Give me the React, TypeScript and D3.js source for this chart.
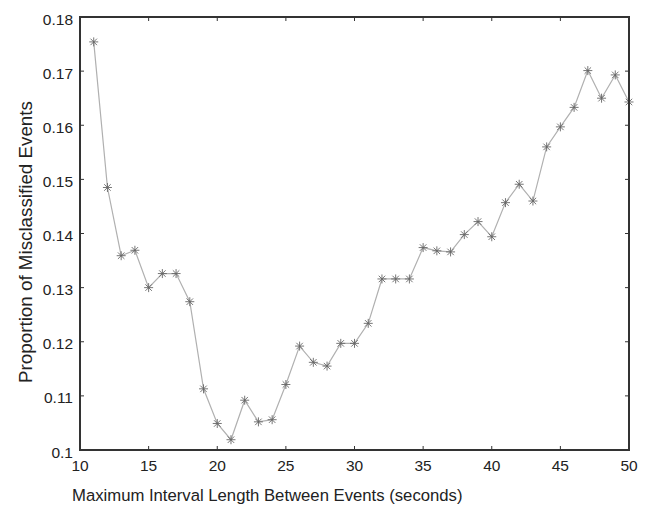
import React from "react";
import * as d3 from "d3";

const xValues = [11,12,13,14,15,16,17,18,19,20,21,22,23,24,25,26,27,28,29,30,31,32,33,34,35,36,37,38,39,40,41,42,43,44,45,46,47,48,49,50];
const yValues = [0.1754,0.1485,0.1359,0.1369,0.1300,0.1326,0.1326,0.1274,0.1113,0.1049,0.1019,0.1092,0.1052,0.1056,0.1121,0.1192,0.1162,0.1155,0.1197,0.1197,0.1234,0.1316,0.1316,0.1316,0.1374,0.1368,0.1366,0.1398,0.1422,0.1394,0.1457,0.1491,0.1460,0.1560,0.1597,0.1633,0.1701,0.1650,0.1693,0.1643];
const xTicks = [10,15,20,25,30,35,40,45,50];
const yTicks = [0.1,0.11,0.12,0.13,0.14,0.15,0.16,0.17,0.18];
const xTitle = "Maximum Interval Length Between Events (seconds)";
const yTitle = "Proportion of Misclassified Events";

export default function App() {
  const W = 646, H = 507;
  const L = 80, R = 629, T = 17, B = 450;
  const x = d3.scaleLinear().domain([10, 50]).range([L, R]);
  const y = d3.scaleLinear().domain([0.1, 0.18]).range([B, T]);
  const line = d3.line<number>().x((_, i) => x(xValues[i])).y((d) => y(d));
  const font = "Liberation Sans, Arial, sans-serif";
  const axisColor = "#333";
  const tickLen = 4;
  const star = (cx: number, cy: number, k: number) => {
    const r = 4.5;
    const d = r * 0.72;
    return (
      <g key={k} stroke="#666" strokeWidth={0.9}>
        <line x1={cx - r} y1={cy} x2={cx + r} y2={cy} />
        <line x1={cx} y1={cy - r} x2={cx} y2={cy + r} />
        <line x1={cx - d} y1={cy - d} x2={cx + d} y2={cy + d} />
        <line x1={cx - d} y1={cy + d} x2={cx + d} y2={cy - d} />
      </g>
    );
  };
  const fmt = (v: number) => (Math.abs(v - 0.1) < 1e-9 ? "0.1" : v.toFixed(2));
  return (
    <svg width={W} height={H} style={{ position: "absolute", left: 0, top: 0, background: "#fff" }}>
      <rect x={0} y={0} width={W} height={H} fill="#fff" />
      <path d={line(yValues) || ""} fill="none" stroke="#b0b0b0" strokeWidth={1.2} />
      {yValues.map((v, i) => star(x(xValues[i]), y(v), i))}
      {xTicks.map((t) => (
        <g key={"xt" + t}>
          <line x1={x(t)} y1={B} x2={x(t)} y2={B - tickLen} stroke={axisColor} strokeWidth={1} />
          <line x1={x(t)} y1={T} x2={x(t)} y2={T + tickLen} stroke={axisColor} strokeWidth={1} />
          <text x={x(t)} y={B + 21} textAnchor="middle" fontFamily={font} fontSize={15.5} fill="#222">{t}</text>
        </g>
      ))}
      {yTicks.map((t) => (
        <g key={"yt" + t}>
          <line x1={L} y1={y(t)} x2={L + tickLen} y2={y(t)} stroke={axisColor} strokeWidth={1} />
          <line x1={R} y1={y(t)} x2={R - tickLen} y2={y(t)} stroke={axisColor} strokeWidth={1} />
          <text x={L - 7} y={y(t) + 7.5} textAnchor="end" fontFamily={font} fontSize={15.5} fill="#222">{fmt(t)}</text>
        </g>
      ))}
      <rect x={L} y={T} width={R - L} height={B - T} fill="none" stroke={axisColor} strokeWidth={2} />
      <text x={72} y={501} textAnchor="start" fontFamily={font} fontSize={16.7} fill="#222">{xTitle}</text>
      <text transform={`translate(32, 242) rotate(-90)`} textAnchor="middle" fontFamily={font} fontSize={18.8} fill="#222">{yTitle}</text>
    </svg>
  );
}
